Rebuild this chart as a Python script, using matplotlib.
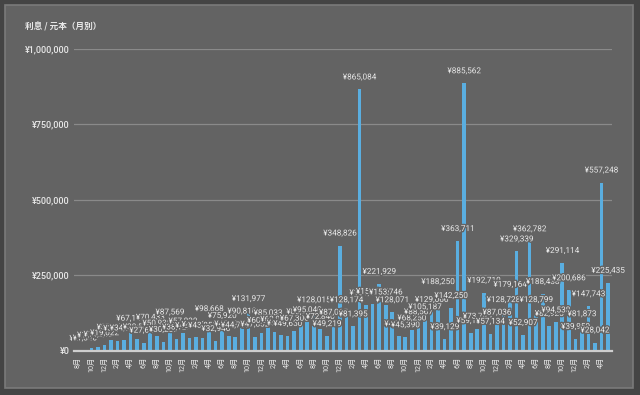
import matplotlib
matplotlib.use("Agg")
import matplotlib.pyplot as plt
import matplotlib.patheffects as pe
from matplotlib.patches import Rectangle
import numpy as np

# monthly values (interest / principal)
months = [
    "8月", "9月", "10月", "11月", "12月", "1月", "2月", "3月", "4月", "5月", "6月", "7月",
    "8月", "9月", "10月", "11月", "12月", "1月", "2月", "3月", "4月", "5月", "6月", "7月",
    "8月", "9月", "10月", "11月", "12月", "1月", "2月", "3月", "4月", "5月", "6月", "7月",
    "8月", "9月", "10月", "11月", "12月", "1月", "2月", "3月", "4月", "5月", "6月", "7月",
    "8月", "9月", "10月", "11月", "12月", "1月", "2月", "3月", "4月", "5月", "6月", "7月",
    "8月", "9月", "10月", "11月", "12月", "1月", "2月", "3月", "4月", "5月", "6月", "7月",
    "8月", "9月", "10月", "11月", "12月", "1月", "2月", "3月", "4月", "5月",
]
values = [
    612, 1840, 11420, 14350, 19022, 37640, 34120, 34980, 67150, 38560, 27640, 70433,
    50930, 30280, 87569, 38120, 57890, 43260, 46880, 43850, 98668, 32946, 75920, 48420,
    44730, 90810, 131977, 47802, 60240, 85033, 63960, 51329, 49650, 67306, 88910, 95040,
    128015, 72840, 49219, 87015, 348826, 128174, 81395, 865084, 151480, 155920, 221929, 153746,
    128071, 48527, 45390, 68250, 88567, 105187, 129066, 188250, 39129, 142250, 363711, 885562,
    59180, 73745, 192710, 57134, 87036, 128728, 179164, 329339, 52907, 362782, 128799, 188438,
    82925, 94538, 291114, 200686, 39959, 81873, 147743, 28042, 557248, 225435,
]
yticks = [0, 250000, 500000, 750000, 1000000]
title = "利息 / 元本（月別）"

outer_bg = "#444444"
panel_bg = "#636363"
bar_color = "#5aaee0"
text_color = "#e8e8e8"
cjk = ["Roboto", "Noto Sans CJK JP", "DejaVu Sans"]

fig = plt.figure(figsize=(6.4, 3.95), dpi=100, facecolor=outer_bg)
panel = Rectangle((5 / 640, 1 - 388 / 395), 628 / 640, 383 / 395,
                  transform=fig.transFigure, facecolor=panel_bg,
                  edgecolor="#7a7a7a", lw=1.2, zorder=-10)
fig.patches.append(panel)

ax = fig.add_axes([74 / 640, 1 - 351 / 395, (612 - 74) / 640, (351 - 48.7) / 395])
ax.set_facecolor("none")
ax.set_zorder(1)

x = np.arange(len(values))
ax.bar(x, values, width=0.56, color=bar_color, zorder=2)

ax.set_xlim(-0.66, 81.6)
ax.set_ylim(0, 1000000)

ax.set_yticks(yticks)
ax.set_yticklabels([f"¥{v:,}" for v in yticks], family=cjk, fontsize=6.5,
                   fontweight="medium", color=text_color)
ax.yaxis.grid(True, color="#8a8a8a", lw=0.9)
ax.set_axisbelow(True)
ax.axhline(0, color="#cfcfcf", lw=1.6, zorder=3, clip_on=False)

ax.set_xticks(x[::2])
ax.set_xticklabels(months[::2], rotation=90, family=cjk, fontsize=5.2, color=text_color)
ax.tick_params(axis="both", length=0)
ax.tick_params(axis="y", pad=3)
ax.tick_params(axis="x", pad=4)
for s in ax.spines.values():
    s.set_visible(False)

halo = [pe.withStroke(linewidth=2, foreground=panel_bg)]
for i, v in enumerate(values):
    ax.annotate(f"¥{v:,}", (i, v), xytext=(0, 6.5), textcoords="offset points",
                ha="center", va="bottom", fontsize=5.9, family=cjk,
                color=text_color, path_effects=halo, zorder=4, annotation_clip=False)

fig.text(25 / 640, 1 - 27 / 395, title, family=["Noto Sans CJK JP", "DejaVu Sans"],
         fontsize=6.2, fontweight="bold", color=text_color, va="center", ha="left")

fig.savefig("out.png", dpi=100, facecolor=outer_bg)
